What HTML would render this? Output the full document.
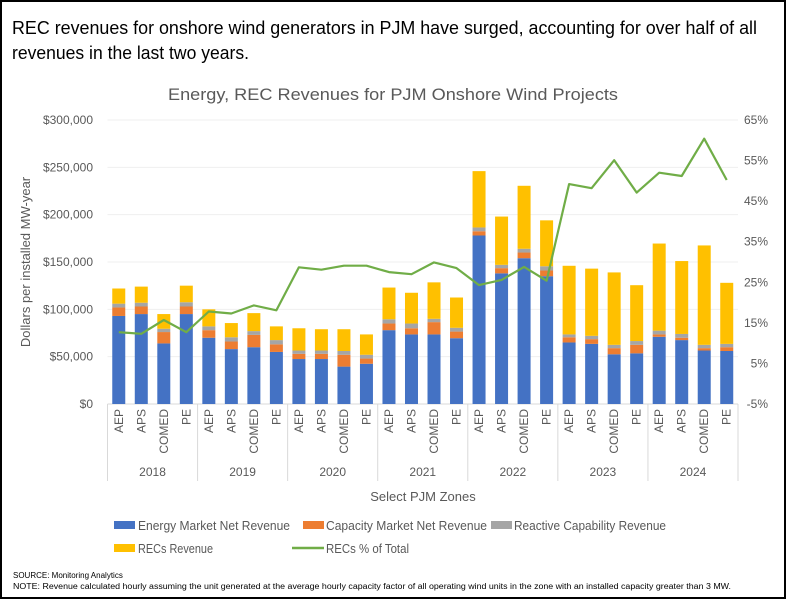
<!DOCTYPE html>
<html><head><meta charset="utf-8"><style>
body{margin:0;background:#fff;}
svg{display:block;font-family:"Liberation Sans",sans-serif;}
</style></head><body>
<svg id="chart" width="786" height="600" viewBox="0 0 786 600">
<rect x="1" y="1" width="784" height="597" fill="#fff" stroke="#000" stroke-width="2"/>
<text x="12" y="34" font-size="18" fill="#000" textLength="745" lengthAdjust="spacingAndGlyphs">REC revenues for onshore wind generators in PJM have surged, accounting for over half of all</text>
<text x="12" y="59" font-size="18" fill="#000" textLength="237" lengthAdjust="spacingAndGlyphs">revenues in the last two years.</text>
<text x="393" y="100" font-size="17" fill="#595959" text-anchor="middle" textLength="450" lengthAdjust="spacingAndGlyphs">Energy, REC Revenues for PJM Onshore Wind Projects</text>
<text transform="translate(30,262) rotate(-90)" font-size="13" fill="#595959" text-anchor="middle">Dollars per installed MW-year</text>
<text x="423" y="501" font-size="13" fill="#595959" text-anchor="middle">Select PJM Zones</text>
<g id="grid"></g><g id="bars"></g><g id="line"></g><g id="axes"></g>
<g font-size="12.5" fill="#595959">
<rect x="114" y="521" width="21" height="8" fill="#4472C4"/>
<text x="138" y="530" textLength="152" lengthAdjust="spacingAndGlyphs">Energy Market Net Revenue</text>
<rect x="303" y="521" width="21" height="8" fill="#ED7D31"/>
<text x="326" y="530" textLength="161" lengthAdjust="spacingAndGlyphs">Capacity Market Net Revenue</text>
<rect x="491" y="521" width="21" height="8" fill="#A5A5A5"/>
<text x="514" y="530" textLength="152" lengthAdjust="spacingAndGlyphs">Reactive Capability Revenue</text>
<rect x="114" y="544" width="21" height="8" fill="#FFC000"/>
<text x="138" y="553" textLength="75" lengthAdjust="spacingAndGlyphs">RECs Revenue</text>
<line x1="292" y1="548" x2="324" y2="548" stroke="#70AD47" stroke-width="2.5"/>
<text x="326" y="553" textLength="83" lengthAdjust="spacingAndGlyphs">RECs % of Total</text>
</g>
<text x="13" y="578" font-size="8" fill="#000">SOURCE: Monitoring Analytics</text>
<text x="13" y="589" font-size="8" fill="#000" textLength="718" lengthAdjust="spacingAndGlyphs">NOTE: Revenue calculated hourly assuming the unit generated at the average hourly capacity factor of all operating wind units in the zone with an installed capacity greater than  3 MW.</text>
</svg>
<script>
const years=["2018","2019","2020","2021","2022","2023","2024"];
const zones=["AEP","APS","COMED","PE"];
const energy=[93000,95000,64000,95000,70000,58000,60000,55000,47500,47500,39500,42500,78000,73500,73500,69500,178000,138000,154000,135000,65000,63500,52500,53500,71000,67500,56500,56000];
const capacity=[9000,8000,12000,8000,8000,8000,13000,8000,5500,5500,12500,5500,7000,6500,13000,7000,4500,5500,6000,6000,5500,5000,6500,9000,2500,2500,2500,4000];
const reactive=[4000,4000,3500,4500,4000,4500,4000,4500,3500,3500,4000,4000,4500,5000,3500,4000,4000,3500,4000,4500,3000,3500,3500,4000,4000,4000,3500,3500];
const recs=[16000,17000,15500,17500,18000,15000,19000,14500,23500,22500,23000,21500,33500,32500,38500,32000,59500,51000,66500,48500,72500,71000,76500,59000,92000,77000,105000,64500];
const recsPct=[12.7,12.3,15.7,12.7,17.8,17.3,19.3,18.1,28.7,28.1,29.1,29.1,27.5,27.0,29.9,28.5,24.3,25.6,28.8,25.4,49.2,48.2,55.1,47.1,52.0,51.2,60.4,50.2];
const leftTicks=[0,50000,100000,150000,200000,250000,300000];
const rightTicks=[-5,5,15,25,35,45,55,65];

const NS="http://www.w3.org/2000/svg";
const X0=107.5,X1=738,Y0=404,Y1=120;
const n=energy.length, step=(X1-X0)/n, bw=13;
const xc=i=>X0+step*(i+0.5);
const yL=v=>Y0-(v/300000)*(Y0-Y1);
const yR=p=>Y0-((p+5)/70)*(Y0-Y1);
function mk(tag,attrs,parent,txt){const e=document.createElementNS(NS,tag);for(const k in attrs)e.setAttribute(k,attrs[k]);if(txt!==undefined)e.textContent=txt;parent.appendChild(e);return e;}
const grid=document.getElementById('grid'),bars=document.getElementById('bars'),line=document.getElementById('line'),axes=document.getElementById('axes');
leftTicks.forEach(t=>{
  const g=mk('line',{x1:X0,x2:X1,y1:yL(t),y2:yL(t),stroke:t===0?'#d9d9d9':'#efefef','stroke-width':1},grid);
  
  
  const l=mk('text',{x:93,y:yL(t)+4,'font-size':12,fill:'#595959','text-anchor':'end'},axes,'$'+t.toLocaleString('en-US'));
  
  
});
rightTicks.forEach(t=>{
  const l=mk('text',{x:768,y:yR(t)+4,'font-size':12,fill:'#595959','text-anchor':'end'},axes,t+'%');
  
  
});
const series=[[energy,'#4472C4','energy'],[capacity,'#ED7D31','capacity'],[reactive,'#A5A5A5','reactive'],[recs,'#FFC000','recs']];
for(let i=0;i<n;i++){
  let base=0;
  series.forEach(([arr,col,nm])=>{
    const top=base+arr[i];
    const r=mk('rect',{x:xc(i)-bw/2,y:yL(top),width:bw,height:yL(base)-yL(top),fill:col},bars);
    
    
    base=top;
  });
  const z=zones[i%4];
  const cx=xc(i)+4;
  const t=mk('text',{transform:`translate(${cx},409) rotate(-90)`,'font-size':12,fill:'#595959','text-anchor':'end'},axes,z);
  
  
}
for(let y=0;y<=years.length;y++){
  const x=X0+step*4*y;
  const s=mk('line',{x1:x,x2:x,y1:Y0,y2:481,stroke:'#d9d9d9','stroke-width':1},axes);
  
  
  if(y<years.length){
    const t=mk('text',{x:x+step*2,y:476,'font-size':12,fill:'#595959','text-anchor':'middle'},axes,years[y]);
    
    
  }
}
const pts=recsPct.map((p,i)=>xc(i).toFixed(1)+','+yR(p).toFixed(1)).join(' ');
const pl=mk('polyline',{points:pts,fill:'none',stroke:'#70AD47','stroke-width':2.2,'stroke-linejoin':'round'},line);


</script>
</body></html>
